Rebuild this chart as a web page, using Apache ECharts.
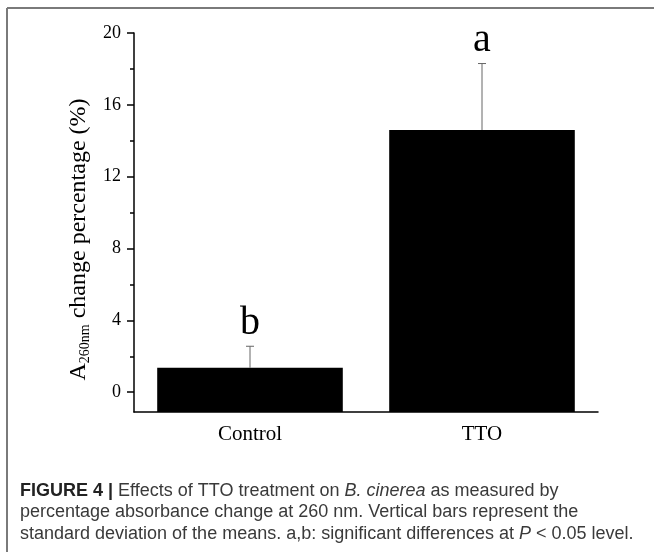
<!DOCTYPE html>
<html>
<head>
<meta charset="utf-8">
<script src="https://cdn.jsdelivr.net/npm/echarts@6/dist/echarts.min.js"></script>
<style>
  html, body { margin: 0; padding: 0; background: #fff; }
  #chart { width: 654px; height: 552px; }
</style>
</head>
<body>
<div id="chart"></div>
<script>
// data
var categories = ['Control', 'TTO'];
var means = [1.36, 14.6];
var sds = [1.2, 3.7];
var letters = ['b', 'a'];
var majorTicks = [0, 4, 8, 12, 16, 20];
var minorTicks = [2, 6, 10, 14, 18];
var yMin = -1.1, yMax = 20;

var serif = '"Liberation Serif", "DejaVu Serif", serif';
var sans = '"Liberation Sans", Arial, sans-serif';

var barData = [], errData = [];
for (var i = 0; i < categories.length; i++) {
    barData.push([i, means[i]]);
    errData.push([i, means[i], means[i] + sds[i], letters[i]]);
}

// bars start at the bottom of the axis (like the Origin plot), not at 0
function renderBar(params, api) {
    var top = api.coord([api.value(0), api.value(1)]);
    var bottom = api.coord([api.value(0), yMin]);
    var w = api.size([1, 0])[0] * 0.8;
    return {
        type: 'rect',
        shape: { x: top[0] - w / 2, y: top[1], width: w, height: bottom[1] - top[1] },
        style: { fill: '#000' }
    };
}

function renderErr(params, api) {
    var base = api.coord([api.value(0), api.value(1)]);
    var top = api.coord([api.value(0), api.value(2)]);
    var cap = 4;
    return {
        type: 'group',
        children: [
            { type: 'line', shape: { x1: base[0], y1: base[1], x2: top[0], y2: top[1] },
              style: { stroke: '#666', lineWidth: 1 } },
            { type: 'line', shape: { x1: top[0] - cap, y1: top[1], x2: top[0] + cap, y2: top[1] },
              style: { stroke: '#666', lineWidth: 1 } },
            { type: 'text', x: top[0], y: top[1] - 3,
              style: { text: api.value(3), fill: '#000', font: '40px ' + serif,
                       align: 'center', verticalAlign: 'bottom' } }
        ]
    };
}

var myChart = echarts.init(document.getElementById('chart'));
var option = {
    animation: false,
    backgroundColor: '#fff',
    grid: { left: 134, right: 56, top: 33, bottom: 140 },
    xAxis: [
        {
            type: 'category',
            data: categories,
            axisLine: { onZero: false, lineStyle: { color: '#000', width: 1.5 } },
            axisTick: { alignWithLabel: true, length: 6, lineStyle: { color: '#000', width: 1.5 } },
            axisLabel: { color: '#000', fontFamily: serif, fontSize: 21, margin: 12 }
        },
        {
            type: 'category',
            data: categories,
            position: 'bottom',
            axisLine: { show: false, onZero: false },
            axisTick: { alignWithLabel: false, length: 6, lineStyle: { color: '#000', width: 1.5 } },
            axisLabel: { show: false }
        }
    ],
    yAxis: [
        {
            type: 'value',
            min: yMin,
            max: yMax,
            splitLine: { show: false },
            axisLine: { show: true, onZero: false, lineStyle: { color: '#000', width: 1.5 } },
            axisTick: { show: true, length: 7, customValues: majorTicks, lineStyle: { color: '#000', width: 1.5 } },
            axisLabel: { customValues: majorTicks, color: '#000', fontFamily: serif, fontSize: 18, margin: 13 },
            name: '{m|A}{s|260nm}{m| change percentage (%)}',
            nameLocation: 'middle',
            nameGap: 40,
            nameRotate: 90,
            nameTextStyle: {
                padding: [0, 34, 0, 0],
                rich: {
                    m: { fontFamily: serif, fontSize: 24, color: '#000' },
                    s: { fontFamily: serif, fontSize: 14, color: '#000', padding: [13, 0, 0, 0] }
                }
            }
        },
        {
            type: 'value',
            min: yMin,
            max: yMax,
            position: 'left',
            splitLine: { show: false },
            axisLine: { show: false, onZero: false },
            axisTick: { show: true, length: 4, customValues: minorTicks, lineStyle: { color: '#000', width: 1.5 } },
            axisLabel: { show: false }
        }
    ],
    series: [
        {
            type: 'custom',
            renderItem: renderBar,
            data: barData,
            z: 2
        },
        {
            type: 'custom',
            renderItem: renderErr,
            data: errData,
            z: 5
        }
    ],
    graphic: [
        { type: 'line', shape: { x1: 7, y1: 8, x2: 654, y2: 8 }, style: { stroke: '#7a7a7a', lineWidth: 2 } },
        { type: 'line', shape: { x1: 7, y1: 8, x2: 7, y2: 552 }, style: { stroke: '#7a7a7a', lineWidth: 2 } },
        {
            type: 'text', left: 20, top: 482,
            style: {
                text: '{b|FIGURE 4 |} Effects of TTO treatment on {i|B. cinerea} as measured by',
                font: '18px ' + sans, fill: '#3a3a3a',
                rich: {
                    b: { fontFamily: sans, fontSize: 18, fontWeight: 'bold', fill: '#222' },
                    i: { fontFamily: sans, fontSize: 18, fontStyle: 'italic', fill: '#3a3a3a' }
                }
            }
        },
        {
            type: 'text', left: 20, top: 503.5,
            style: {
                text: 'percentage absorbance change at 260 nm. Vertical bars represent the',
                font: '18px ' + sans, fill: '#3a3a3a'
            }
        },
        {
            type: 'text', left: 20, top: 525,
            style: {
                text: 'standard deviation of the means. a,b: significant differences at {i|P} < 0.05 level.',
                font: '18px ' + sans, fill: '#3a3a3a',
                rich: {
                    i: { fontFamily: sans, fontSize: 18, fontStyle: 'italic', fill: '#3a3a3a' }
                }
            }
        }
    ]
};
myChart.setOption(option);
</script>
</body>
</html>
